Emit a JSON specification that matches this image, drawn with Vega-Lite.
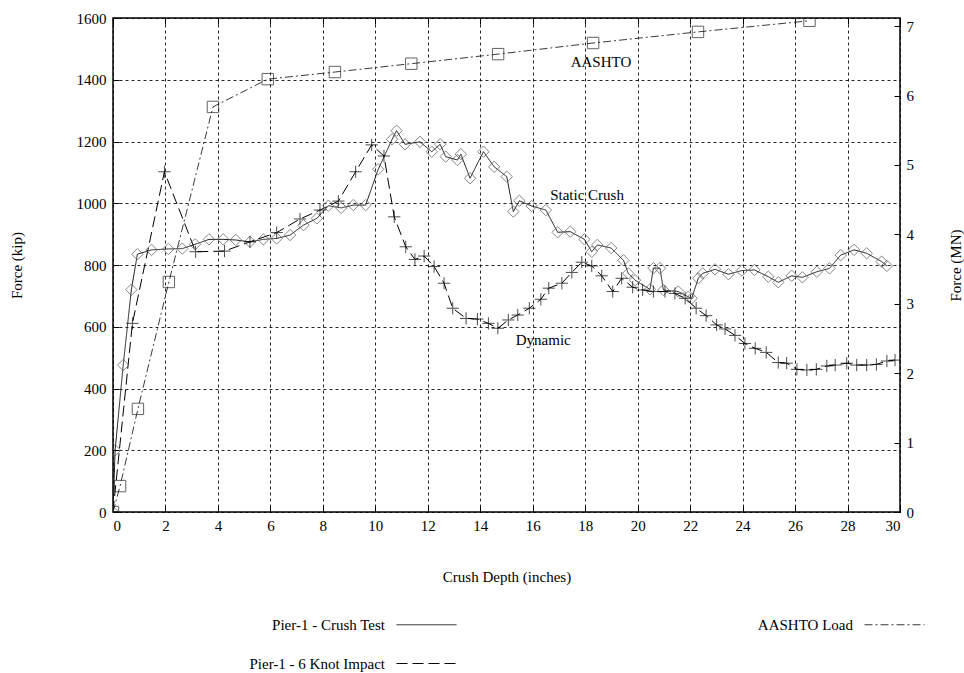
{
  "$schema": "https://vega.github.io/schema/vega-lite/v6.json",
  "width": 787,
  "height": 494,
  "autosize": {"type": "none"},
  "padding": {"left": 113, "top": 18, "right": 64, "bottom": 161},
  "background": "#ffffff",
  "config": {
    "font": "Times New Roman",
    "view": {"stroke": "#000", "strokeWidth": 1.5},
    "style": {
      "guide-label": {"font": "Times New Roman", "fontSize": 15, "fill": "#000"},
      "guide-title": {"font": "Times New Roman", "fontSize": 15, "fontWeight": "normal", "fill": "#000"}
    },
    "axis": {
      "labelFont": "Times New Roman",
      "titleFont": "Times New Roman",
      "labelFontSize": 15,
      "labelColor": "#000",
      "titleFontSize": 15,
      "titleFontWeight": "normal",
      "titleColor": "#000",
      "tickColor": "#000",
      "tickSize": -6,
      "domain": false,
      "gridColor": "#000",
      "gridDash": [3, 3],
      "gridOpacity": 0.85,
      "gridWidth": 1
    },
    "legend": {
      "labelFont": "Times New Roman",
      "labelFontSize": 15,
      "labelColor": "#000"
    }
  },
  "datasets": {
    "curves": [
      {"series": "Pier-1 - Crush Test", "depth": 0, "force": 0},
      {"series": "Pier-1 - Crush Test", "depth": 0.08, "force": 200},
      {"series": "Pier-1 - Crush Test", "depth": 0.39, "force": 476},
      {"series": "Pier-1 - Crush Test", "depth": 0.7, "force": 720},
      {"series": "Pier-1 - Crush Test", "depth": 0.93, "force": 835},
      {"series": "Pier-1 - Crush Test", "depth": 1.47, "force": 849},
      {"series": "Pier-1 - Crush Test", "depth": 2.11, "force": 852},
      {"series": "Pier-1 - Crush Test", "depth": 2.64, "force": 853},
      {"series": "Pier-1 - Crush Test", "depth": 3.13, "force": 867},
      {"series": "Pier-1 - Crush Test", "depth": 3.66, "force": 883},
      {"series": "Pier-1 - Crush Test", "depth": 4.2, "force": 883},
      {"series": "Pier-1 - Crush Test", "depth": 4.68, "force": 881},
      {"series": "Pier-1 - Crush Test", "depth": 5.22, "force": 875},
      {"series": "Pier-1 - Crush Test", "depth": 5.73, "force": 883},
      {"series": "Pier-1 - Crush Test", "depth": 6.24, "force": 886},
      {"series": "Pier-1 - Crush Test", "depth": 6.75, "force": 897},
      {"series": "Pier-1 - Crush Test", "depth": 7.26, "force": 929},
      {"series": "Pier-1 - Crush Test", "depth": 7.77, "force": 951},
      {"series": "Pier-1 - Crush Test", "depth": 8.21, "force": 992},
      {"series": "Pier-1 - Crush Test", "depth": 8.7, "force": 985},
      {"series": "Pier-1 - Crush Test", "depth": 9.16, "force": 994},
      {"series": "Pier-1 - Crush Test", "depth": 9.63, "force": 994},
      {"series": "Pier-1 - Crush Test", "depth": 10.11, "force": 1110},
      {"series": "Pier-1 - Crush Test", "depth": 10.64, "force": 1207},
      {"series": "Pier-1 - Crush Test", "depth": 10.81, "force": 1235},
      {"series": "Pier-1 - Crush Test", "depth": 11.13, "force": 1191},
      {"series": "Pier-1 - Crush Test", "depth": 11.7, "force": 1199},
      {"series": "Pier-1 - Crush Test", "depth": 12.15, "force": 1167},
      {"series": "Pier-1 - Crush Test", "depth": 12.47, "force": 1191},
      {"series": "Pier-1 - Crush Test", "depth": 12.68, "force": 1151},
      {"series": "Pier-1 - Crush Test", "depth": 13.13, "force": 1140},
      {"series": "Pier-1 - Crush Test", "depth": 13.26, "force": 1159},
      {"series": "Pier-1 - Crush Test", "depth": 13.61, "force": 1081},
      {"series": "Pier-1 - Crush Test", "depth": 14.12, "force": 1167},
      {"series": "Pier-1 - Crush Test", "depth": 14.53, "force": 1118},
      {"series": "Pier-1 - Crush Test", "depth": 15.01, "force": 1086},
      {"series": "Pier-1 - Crush Test", "depth": 15.26, "force": 973},
      {"series": "Pier-1 - Crush Test", "depth": 15.49, "force": 1008},
      {"series": "Pier-1 - Crush Test", "depth": 15.96, "force": 991},
      {"series": "Pier-1 - Crush Test", "depth": 16.5, "force": 978},
      {"series": "Pier-1 - Crush Test", "depth": 16.95, "force": 906},
      {"series": "Pier-1 - Crush Test", "depth": 17.43, "force": 908},
      {"series": "Pier-1 - Crush Test", "depth": 17.97, "force": 883},
      {"series": "Pier-1 - Crush Test", "depth": 18.25, "force": 843},
      {"series": "Pier-1 - Crush Test", "depth": 18.46, "force": 865},
      {"series": "Pier-1 - Crush Test", "depth": 18.99, "force": 855},
      {"series": "Pier-1 - Crush Test", "depth": 19.46, "force": 815},
      {"series": "Pier-1 - Crush Test", "depth": 19.64, "force": 773},
      {"series": "Pier-1 - Crush Test", "depth": 19.9, "force": 751},
      {"series": "Pier-1 - Crush Test", "depth": 20.47, "force": 721},
      {"series": "Pier-1 - Crush Test", "depth": 20.6, "force": 790},
      {"series": "Pier-1 - Crush Test", "depth": 20.85, "force": 790},
      {"series": "Pier-1 - Crush Test", "depth": 20.98, "force": 719},
      {"series": "Pier-1 - Crush Test", "depth": 21.55, "force": 714},
      {"series": "Pier-1 - Crush Test", "depth": 21.93, "force": 697},
      {"series": "Pier-1 - Crush Test", "depth": 22.06, "force": 692},
      {"series": "Pier-1 - Crush Test", "depth": 22.31, "force": 757},
      {"series": "Pier-1 - Crush Test", "depth": 22.48, "force": 773},
      {"series": "Pier-1 - Crush Test", "depth": 22.95, "force": 786},
      {"series": "Pier-1 - Crush Test", "depth": 23.46, "force": 770},
      {"series": "Pier-1 - Crush Test", "depth": 23.97, "force": 782},
      {"series": "Pier-1 - Crush Test", "depth": 24.45, "force": 784},
      {"series": "Pier-1 - Crush Test", "depth": 24.98, "force": 762},
      {"series": "Pier-1 - Crush Test", "depth": 25.36, "force": 744},
      {"series": "Pier-1 - Crush Test", "depth": 25.87, "force": 765},
      {"series": "Pier-1 - Crush Test", "depth": 26.28, "force": 760},
      {"series": "Pier-1 - Crush Test", "depth": 26.83, "force": 778},
      {"series": "Pier-1 - Crush Test", "depth": 27.31, "force": 789},
      {"series": "Pier-1 - Crush Test", "depth": 27.74, "force": 832},
      {"series": "Pier-1 - Crush Test", "depth": 28.25, "force": 849},
      {"series": "Pier-1 - Crush Test", "depth": 28.73, "force": 838},
      {"series": "Pier-1 - Crush Test", "depth": 29.3, "force": 811},
      {"series": "Pier-1 - Crush Test", "depth": 29.5, "force": 797},

      {"series": "Pier-1 - 6 Knot Impact", "depth": 0, "force": 0},
      {"series": "Pier-1 - 6 Knot Impact", "depth": 0.74, "force": 611},
      {"series": "Pier-1 - 6 Knot Impact", "depth": 1.96, "force": 1102},
      {"series": "Pier-1 - 6 Knot Impact", "depth": 3.15, "force": 843},
      {"series": "Pier-1 - 6 Knot Impact", "depth": 4.25, "force": 845},
      {"series": "Pier-1 - 6 Knot Impact", "depth": 5.22, "force": 875},
      {"series": "Pier-1 - 6 Knot Impact", "depth": 6.24, "force": 905},
      {"series": "Pier-1 - 6 Knot Impact", "depth": 7.13, "force": 949},
      {"series": "Pier-1 - 6 Knot Impact", "depth": 7.89, "force": 978},
      {"series": "Pier-1 - 6 Knot Impact", "depth": 8.59, "force": 1007},
      {"series": "Pier-1 - 6 Knot Impact", "depth": 9.25, "force": 1102},
      {"series": "Pier-1 - 6 Knot Impact", "depth": 9.86, "force": 1189},
      {"series": "Pier-1 - 6 Knot Impact", "depth": 10.33, "force": 1153},
      {"series": "Pier-1 - 6 Knot Impact", "depth": 10.72, "force": 956},
      {"series": "Pier-1 - 6 Knot Impact", "depth": 11.16, "force": 859},
      {"series": "Pier-1 - 6 Knot Impact", "depth": 11.51, "force": 818},
      {"series": "Pier-1 - 6 Knot Impact", "depth": 11.86, "force": 829},
      {"series": "Pier-1 - 6 Knot Impact", "depth": 12.24, "force": 795},
      {"series": "Pier-1 - 6 Knot Impact", "depth": 12.62, "force": 741},
      {"series": "Pier-1 - 6 Knot Impact", "depth": 12.95, "force": 660},
      {"series": "Pier-1 - 6 Knot Impact", "depth": 13.46, "force": 627},
      {"series": "Pier-1 - 6 Knot Impact", "depth": 13.89, "force": 625},
      {"series": "Pier-1 - 6 Knot Impact", "depth": 14.31, "force": 611},
      {"series": "Pier-1 - 6 Knot Impact", "depth": 14.67, "force": 595},
      {"series": "Pier-1 - 6 Knot Impact", "depth": 15.07, "force": 622},
      {"series": "Pier-1 - 6 Knot Impact", "depth": 15.43, "force": 638},
      {"series": "Pier-1 - 6 Knot Impact", "depth": 15.87, "force": 660},
      {"series": "Pier-1 - 6 Knot Impact", "depth": 16.31, "force": 689},
      {"series": "Pier-1 - 6 Knot Impact", "depth": 16.61, "force": 725},
      {"series": "Pier-1 - 6 Knot Impact", "depth": 17.11, "force": 741},
      {"series": "Pier-1 - 6 Knot Impact", "depth": 17.49, "force": 776},
      {"series": "Pier-1 - 6 Knot Impact", "depth": 17.87, "force": 809},
      {"series": "Pier-1 - 6 Knot Impact", "depth": 18.25, "force": 797},
      {"series": "Pier-1 - 6 Knot Impact", "depth": 18.63, "force": 765},
      {"series": "Pier-1 - 6 Knot Impact", "depth": 19.05, "force": 714},
      {"series": "Pier-1 - 6 Knot Impact", "depth": 19.39, "force": 757},
      {"series": "Pier-1 - 6 Knot Impact", "depth": 19.81, "force": 728},
      {"series": "Pier-1 - 6 Knot Impact", "depth": 20.19, "force": 719},
      {"series": "Pier-1 - 6 Knot Impact", "depth": 20.6, "force": 714},
      {"series": "Pier-1 - 6 Knot Impact", "depth": 21.04, "force": 714},
      {"series": "Pier-1 - 6 Knot Impact", "depth": 21.42, "force": 708},
      {"series": "Pier-1 - 6 Knot Impact", "depth": 21.81, "force": 692},
      {"series": "Pier-1 - 6 Knot Impact", "depth": 22.23, "force": 660},
      {"series": "Pier-1 - 6 Knot Impact", "depth": 22.61, "force": 636},
      {"series": "Pier-1 - 6 Knot Impact", "depth": 23.01, "force": 606},
      {"series": "Pier-1 - 6 Knot Impact", "depth": 23.33, "force": 593},
      {"series": "Pier-1 - 6 Knot Impact", "depth": 23.71, "force": 572},
      {"series": "Pier-1 - 6 Knot Impact", "depth": 24.09, "force": 546},
      {"series": "Pier-1 - 6 Knot Impact", "depth": 24.48, "force": 530},
      {"series": "Pier-1 - 6 Knot Impact", "depth": 24.9, "force": 517},
      {"series": "Pier-1 - 6 Knot Impact", "depth": 25.36, "force": 484},
      {"series": "Pier-1 - 6 Knot Impact", "depth": 25.68, "force": 482},
      {"series": "Pier-1 - 6 Knot Impact", "depth": 26.07, "force": 462},
      {"series": "Pier-1 - 6 Knot Impact", "depth": 26.45, "force": 460},
      {"series": "Pier-1 - 6 Knot Impact", "depth": 26.81, "force": 462},
      {"series": "Pier-1 - 6 Knot Impact", "depth": 27.21, "force": 473},
      {"series": "Pier-1 - 6 Knot Impact", "depth": 27.53, "force": 476},
      {"series": "Pier-1 - 6 Knot Impact", "depth": 27.97, "force": 482},
      {"series": "Pier-1 - 6 Knot Impact", "depth": 28.35, "force": 476},
      {"series": "Pier-1 - 6 Knot Impact", "depth": 28.73, "force": 476},
      {"series": "Pier-1 - 6 Knot Impact", "depth": 29.1, "force": 478},
      {"series": "Pier-1 - 6 Knot Impact", "depth": 29.5, "force": 489},
      {"series": "Pier-1 - 6 Knot Impact", "depth": 29.81, "force": 492},

      {"series": "AASHTO Load", "depth": 0, "force": 0},
      {"series": "AASHTO Load", "depth": 0.27, "force": 84},
      {"series": "AASHTO Load", "depth": 0.95, "force": 334},
      {"series": "AASHTO Load", "depth": 2.13, "force": 745},
      {"series": "AASHTO Load", "depth": 3.81, "force": 1312},
      {"series": "AASHTO Load", "depth": 5.9, "force": 1402},
      {"series": "AASHTO Load", "depth": 8.46, "force": 1425},
      {"series": "AASHTO Load", "depth": 11.37, "force": 1452},
      {"series": "AASHTO Load", "depth": 14.68, "force": 1483},
      {"series": "AASHTO Load", "depth": 18.3, "force": 1519},
      {"series": "AASHTO Load", "depth": 22.3, "force": 1555},
      {"series": "AASHTO Load", "depth": 26.55, "force": 1591}
    ],
    "labels": [
      {"label": "AASHTO", "depth": 18.6, "force": 1457},
      {"label": "Static Crush", "depth": 18.07, "force": 1027},
      {"label": "Dynamic", "depth": 16.4, "force": 557}
    ]
  },
  "layer": [
    {
      "data": {"name": "curves"},
      "encoding": {
        "x": {
          "field": "depth",
          "type": "quantitative",
          "scale": {"domain": [0, 30], "nice": false},
          "axis": {
            "orient": "bottom",
            "values": [0, 2, 4, 6, 8, 10, 12, 14, 16, 18, 20, 22, 24, 26, 28, 30],
            "format": "d",
            "title": "Crush Depth (inches)",
            "labelFont": "Times New Roman",
            "titleFont": "Times New Roman",
            "grid": true,
            "labelPadding": 12,
            "titlePadding": 36
          }
        },
        "y": {
          "field": "force",
          "type": "quantitative",
          "scale": {"domain": [0, 1600], "nice": false},
          "axis": {
            "orient": "left",
            "values": [0, 200, 400, 600, 800, 1000, 1200, 1400, 1600],
            "format": "d",
            "title": "Force (kip)",
            "labelFont": "Times New Roman",
            "titleFont": "Times New Roman",
            "grid": true,
            "labelPadding": 13,
            "titlePadding": 52
          }
        }
      },
      "layer": [
        {
          "mark": {"type": "line", "strokeWidth": 1, "clip": true},
          "encoding": {
            "color": {
              "field": "series",
              "type": "nominal",
              "scale": {
                "domain": ["Pier-1 - Crush Test", "Pier-1 - 6 Knot Impact", "AASHTO Load"],
                "range": ["#1a1a1a", "#000000", "#3a3a3a"]
              },
              "legend": {
                "orient": "none",
                "legendX": 283,
                "legendY": 576,
                "columns": 2,
                "title": null,
                "symbolType": "stroke",
                "symbolSize": 3600,
                "symbolStrokeWidth": 1,
                "labelFont": "Times New Roman",
                "labelAlign": "right",
                "labelOffset": -72,
                "columnPadding": 298,
                "rowPadding": 0
              }
            },
            "strokeDash": {
              "field": "series",
              "type": "nominal",
              "scale": {
                "domain": ["Pier-1 - Crush Test", "Pier-1 - 6 Knot Impact", "AASHTO Load"],
                "range": [[1, 0], [11, 5], [8, 3, 2, 3]]
              },
              "legend": {
                "orient": "none",
                "legendX": 283,
                "legendY": 576,
                "columns": 2,
                "title": null,
                "symbolType": "stroke",
                "symbolSize": 3600,
                "symbolStrokeWidth": 1,
                "labelFont": "Times New Roman",
                "labelAlign": "right",
                "labelOffset": -72,
                "columnPadding": 298,
                "rowPadding": 0
              }
            }
          }
        },
        {
          "transform": [{"filter": "datum.series === 'Pier-1 - Crush Test'"}],
          "mark": {"type": "point", "shape": "diamond", "filled": false, "strokeWidth": 1, "size": 130, "color": "#555555", "clip": true}
        },
        {
          "transform": [{"filter": "datum.series === 'Pier-1 - 6 Knot Impact'"}],
          "mark": {"type": "point", "shape": "M-1,0H1M0,-1V1", "filled": false, "strokeWidth": 1, "size": 150, "color": "#000000", "clip": true}
        },
        {
          "transform": [{"filter": "datum.series === 'AASHTO Load'"}],
          "mark": {"type": "point", "shape": "square", "filled": false, "strokeWidth": 1, "size": 130, "color": "#222222", "clip": true}
        }
      ]
    },
    {
      "data": {"name": "labels"},
      "mark": {"type": "text", "font": "Times New Roman", "fontSize": 15, "color": "#000", "align": "center", "baseline": "middle"},
      "encoding": {
        "x": {
          "field": "depth",
          "type": "quantitative",
          "scale": {"domain": [0, 30], "nice": false},
          "axis": {
            "orient": "top",
            "values": [0, 2, 4, 6, 8, 10, 12, 14, 16, 18, 20, 22, 24, 26, 28, 30],
            "labels": false,
            "title": null,
            "grid": false
          }
        },
        "y": {
          "field": "force",
          "type": "quantitative",
          "scale": {"domain": [0, 1600], "nice": false},
          "axis": {
            "orient": "right",
            "values": [0, 224.8, 449.6, 674.4, 899.2, 1124, 1348.8, 1573.6],
            "labelExpr": "round(datum.value / 224.8)",
            "title": "Force (MN)",
            "titleAngle": 270,
            "labelFont": "Times New Roman",
            "titleFont": "Times New Roman",
            "grid": false,
            "labelPadding": 12,
            "titlePadding": 50
          }
        },
        "text": {"field": "label", "type": "nominal"}
      }
    }
  ],
  "resolve": {"scale": {"x": "independent", "y": "independent"}}
}
